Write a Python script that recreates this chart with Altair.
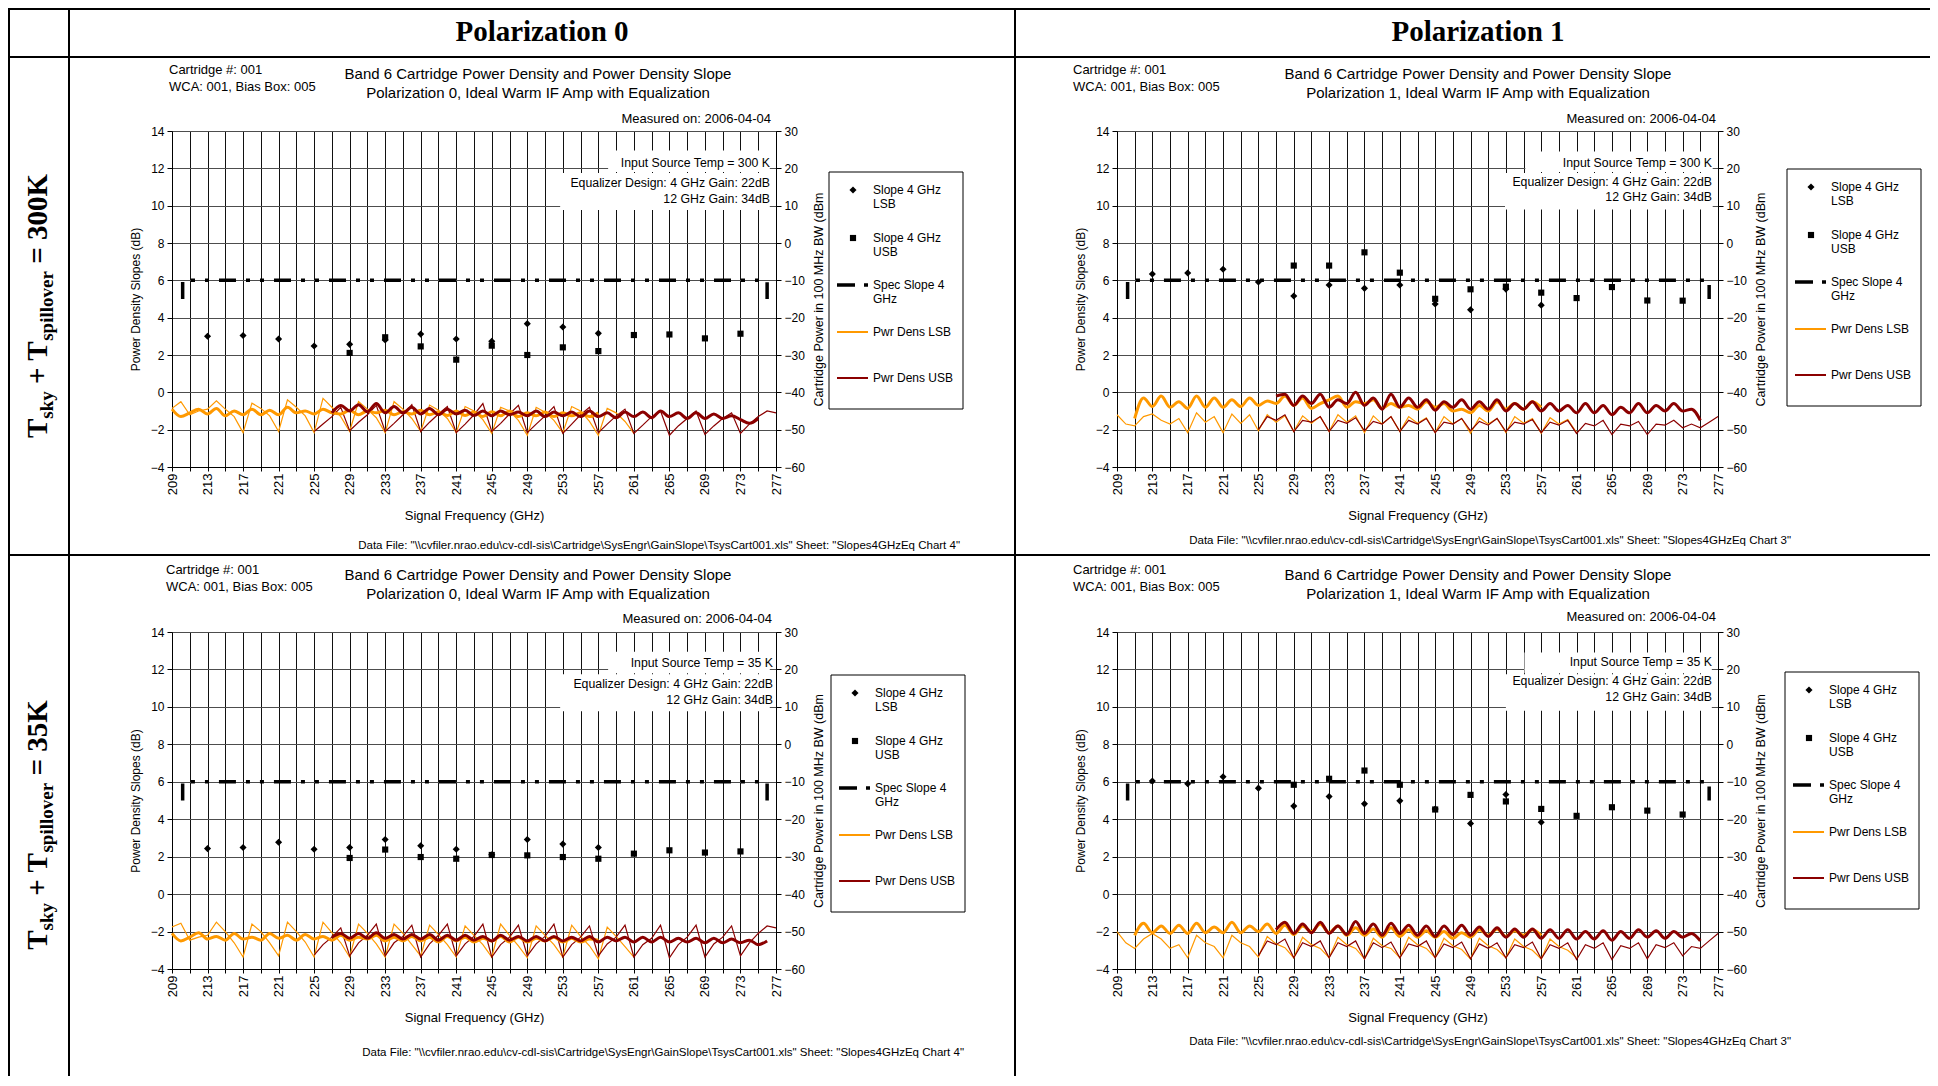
import altair as alt
import pandas as pd

# ------------------------------------------------------------------
# Data
# ------------------------------------------------------------------
LSB_FREQ = [213, 217, 221, 225, 229, 233, 237, 241, 245, 249, 253, 257]
USB_FREQ = [229, 233, 237, 241, 245, 249, 253, 257, 261, 265, 269, 273]
SPEC_FREQ = [210.2, 210.2, 276.0, 276.0]
SPEC_SLOPE = [5.0, 6.0, 6.0, 5.0]
X_TICKS = list(range(209, 278, 2))
Y_LEFT_TICKS = list(range(-4, 15, 2))
Y_RIGHT_TICKS = list(range(-60, 31, 10))

# slope points (dB)
P0_300_LSB = [3.00, 3.04, 2.86, 2.48, 2.57, 2.80, 3.12, 2.86, 2.73, 3.68, 3.50, 3.16]
P0_300_USB = [2.11, 2.95, 2.46, 1.75, 2.50, 2.00, 2.41, 2.21, 3.07, 3.10, 2.89, 3.14]
P1_300_LSB = [6.34, 6.39, 6.59, 5.91, 5.16, 5.75, 5.57, 5.75, 4.73, 4.42, 5.53, 4.67]
P1_300_USB = [6.79, 6.79, 7.50, 6.41, 5.01, 5.52, 5.66, 5.34, 5.05, 5.64, 4.92, 4.91]
P0_35_LSB = [2.43, 2.49, 2.77, 2.40, 2.49, 2.92, 2.58, 2.40, 2.10, 2.92, 2.67, 2.49]
P0_35_USB = [1.93, 2.38, 1.98, 1.89, 2.09, 2.07, 1.98, 1.89, 2.16, 2.34, 2.22, 2.28]
P1_35_LSB = [6.04, 5.90, 6.27, 5.66, 4.70, 5.21, 4.82, 4.98, 4.55, 3.77, 5.32, 3.84]
P1_35_USB = [5.84, 6.16, 6.60, 5.84, 4.52, 5.30, 4.95, 4.55, 4.18, 4.64, 4.46, 4.25]

# power density (dBm, 1 GHz steps from the given start frequency)
P0_300_LSB_THIN_START = 209
P0_300_LSB_THIN = [-44.3, -42.5, -46.0, -45.0, -44.5, -42.3, -44.5, -46.5, -50.8,
                   -42.9, -44.3, -46.3, -50.5, -42.0, -44.0, -46.3, -50.8,
                   -41.6, -44.0, -46.5, -50.5, -42.5, -44.5, -46.8, -50.8,
                   -42.5, -44.5, -47.0, -50.5, -43.4, -44.8, -47.0, -50.8,
                   -43.8, -45.0, -47.3, -51.0, -44.0, -45.0, -47.5, -51.5,
                   -44.0, -45.3, -47.5, -50.8, -43.8, -45.0, -47.8, -51.5,
                   -44.3, -45.5, -47.8, -51.0]
P0_300_LSB_THICK_START = 209
P0_300_LSB_THICK = [-44.5, -46.5, -45.5, -44.5, -45.8, -44.3, -46.3, -45.0, -46.0, -44.5,
                    -46.0, -44.8, -46.0, -44.0, -45.5, -45.0, -45.8, -44.5, -45.5, -45.8,
                    -44.8, -46.0, -45.0, -45.5, -44.8, -46.0, -45.2, -45.8, -44.8, -46.0,
                    -45.3, -46.2, -45.0, -46.2, -45.3, -46.5, -45.2, -46.3, -45.0, -46.5,
                    -45.5, -46.3, -45.3, -46.5, -45.5, -46.3, -45.5, -46.5, -45.5]
P0_300_USB_THICK_START = 227
P0_300_USB_THICK = [-45.5, -43.5, -45.0, -43.3, -45.2, -43.0, -45.5, -43.8, -45.5, -44.0,
                    -45.8, -44.3, -46.0, -44.5, -45.8, -44.8, -46.2, -45.0, -46.3, -45.0,
                    -46.0, -45.3, -46.3, -45.0, -46.5, -45.3, -46.3, -45.3, -46.5, -45.0,
                    -46.5, -45.5, -46.8, -45.3, -46.5, -45.3, -46.8, -45.0, -46.5, -45.5,
                    -47.0, -45.5, -47.0, -45.8, -47.0, -46.3, -47.3, -48.3, -47.0]
P0_300_USB_THIN_START = 225
P0_300_USB_THIN = [-50.5, -48.5, -46.5, -44.0, -50.3, -48.0, -46.0, -43.5,
                   -50.5, -48.3, -46.0, -43.3, -50.5, -48.0, -45.8, -43.8,
                   -50.8, -48.5, -46.0, -43.0, -50.5, -48.3, -45.8, -43.5,
                   -50.8, -48.5, -46.3, -43.8, -51.0, -48.5, -46.0, -44.0,
                   -50.8, -48.5, -46.3, -44.5, -51.0, -48.8, -46.5, -45.0,
                   -51.5, -49.0, -47.0, -45.0, -51.3, -49.0, -47.0, -45.5,
                   -51.0, -48.5, -46.5, -45.0, -45.5]

P1_300_LSB_THIN_START = 209
P1_300_LSB_THIN = [-46.0, -48.5, -49.0, -46.5, -45.8, -47.5, -48.5, -47.0, -50.8,
                   -45.5, -48.0, -46.5, -50.8, -45.8, -48.3, -46.0, -50.3,
                   -46.0, -48.0, -46.3, -50.5, -46.3, -48.3, -46.5, -50.5,
                   -46.0, -48.0, -46.3, -50.8, -46.3, -48.5, -46.5, -50.5,
                   -46.5, -48.3, -46.8, -50.8, -46.5, -48.5, -47.0, -51.0,
                   -46.8, -48.5, -47.0, -50.8, -46.5, -48.3, -47.0, -51.0,
                   -46.8, -48.5, -47.3, -50.8]
P1_300_LSB_THICK_START = 211
P1_300_LSB_THICK = [-47.0, -41.5, -43.8, -41.0, -44.0, -42.5, -44.3, -41.0, -44.0, -41.5,
                    -44.0, -42.0, -43.8, -41.5, -43.5, -42.3, -43.0, -41.0, -43.5, -41.5,
                    -44.3, -43.0, -42.0, -41.0, -44.0, -42.5, -43.0, -42.0, -44.3, -43.0,
                    -44.0, -43.5, -44.5, -42.5, -44.0, -43.0, -45.0, -44.5, -45.5, -43.5,
                    -45.0, -42.5, -44.5, -43.0, -44.5, -42.5, -44.0]
P1_300_USB_THICK_START = 227
P1_300_USB_THICK = [-41.0, -40.5, -43.5, -41.0, -43.0, -40.5, -44.0, -42.0, -43.0, -40.0,
                    -43.5, -41.5, -44.5, -40.5, -44.0, -41.5, -44.0, -42.0, -44.8, -42.5,
                    -44.0, -42.0, -44.5, -42.5, -44.5, -42.0, -45.0, -43.0, -44.5, -42.5,
                    -45.0, -43.0, -45.0, -43.5, -45.5, -43.0, -45.5, -43.5, -46.0, -44.0,
                    -45.5, -43.0, -45.5, -43.5, -45.0, -43.0, -45.0, -44.5, -47.5]
P1_300_USB_THIN_START = 225
P1_300_USB_THIN = [-50.0, -46.5, -47.5, -46.0, -50.5, -47.5, -48.0, -46.5,
                   -50.5, -47.5, -48.3, -46.8, -50.3, -47.8, -48.5, -46.5,
                   -50.5, -47.5, -48.5, -47.0, -50.8, -48.0, -48.5, -47.0,
                   -50.3, -47.8, -48.8, -47.0, -50.5, -48.0, -48.5, -47.3,
                   -50.8, -48.0, -48.8, -47.5, -51.0, -48.3, -49.0, -47.5,
                   -51.3, -48.5, -49.0, -47.8, -51.3, -48.5, -48.8, -47.5,
                   -49.5, -48.5, -49.5, -48.0, -46.5]

P0_35_LSB_THIN_START = 209
P0_35_LSB_THIN = [-48.8, -47.8, -52.3, -51.5, -51.0, -47.5, -50.0, -53.0, -56.8,
                  -48.0, -50.0, -53.0, -56.5, -47.5, -50.0, -52.8, -56.8,
                  -47.5, -50.3, -53.0, -56.8, -48.0, -50.5, -53.3, -56.8,
                  -48.0, -50.5, -53.5, -56.5, -48.3, -50.8, -53.5, -56.8,
                  -48.5, -51.0, -53.5, -56.8, -48.0, -51.0, -53.8, -57.0,
                  -48.5, -51.0, -53.5, -56.8, -48.3, -51.3, -53.8, -57.3,
                  -48.8, -51.3, -54.0, -56.8]
P0_35_LSB_THICK_START = 209
P0_35_LSB_THICK = [-50.5, -52.5, -51.5, -50.3, -52.0, -51.3, -52.3, -50.5, -52.0, -51.5,
                   -52.3, -50.5, -51.8, -51.0, -52.3, -50.8, -52.0, -51.3, -52.3, -51.0,
                   -52.3, -51.5, -52.0, -51.0, -52.5, -51.5, -52.5, -51.3, -52.5, -51.5,
                   -52.8, -51.3, -52.5, -51.5, -52.8, -51.8, -52.5, -51.3, -52.8, -51.5,
                   -52.8, -51.8, -52.5, -51.5, -52.8, -51.8, -52.8, -52.0, -52.3]
P0_35_USB_THICK_START = 227
P0_35_USB_THICK = [-51.5, -50.5, -51.8, -50.5, -51.8, -50.3, -51.8, -50.8, -52.0, -50.8,
                   -52.0, -50.8, -52.3, -51.0, -52.3, -51.0, -52.3, -51.3, -52.5, -51.0,
                   -52.3, -51.3, -52.5, -51.3, -52.5, -51.3, -52.5, -51.5, -52.5, -51.3,
                   -52.8, -51.5, -52.5, -51.5, -52.8, -51.5, -52.8, -51.5, -52.8, -51.8,
                   -52.8, -51.8, -53.0, -51.8, -53.0, -52.0, -53.0, -52.3, -53.5, -52.5]
P0_35_USB_THIN_START = 225
P0_35_USB_THIN = [-56.3, -53.5, -51.5, -49.0, -56.5, -53.0, -51.0, -48.0,
                  -56.5, -53.0, -51.3, -48.3, -56.8, -53.3, -51.0, -48.0,
                  -56.5, -53.3, -51.3, -48.0, -56.8, -53.5, -51.5, -48.3,
                  -56.5, -53.3, -51.3, -48.0, -56.8, -53.5, -51.5, -48.5,
                  -56.5, -53.3, -51.5, -48.3, -56.8, -53.5, -51.8, -48.3,
                  -57.0, -53.5, -51.5, -48.3, -56.8, -53.3, -51.5, -48.5,
                  -56.5, -53.0, -50.5, -48.5, -49.0]

P1_35_LSB_THIN_START = 209
P1_35_LSB_THIN = [-50.0, -53.0, -54.5, -52.0, -50.5, -52.0, -54.5, -53.5, -57.0,
                  -51.0, -53.0, -54.0, -57.0, -51.0, -53.0, -54.0, -56.8,
                  -51.3, -53.3, -54.3, -57.0, -51.5, -53.5, -54.5, -57.0,
                  -51.5, -53.5, -54.5, -57.3, -51.8, -53.8, -54.5, -57.0,
                  -51.5, -53.5, -54.5, -57.0, -51.8, -53.8, -54.8, -57.3,
                  -51.8, -53.8, -54.8, -57.0, -52.0, -54.0, -55.0, -57.3,
                  -52.0, -54.0, -55.0, -57.0]
P1_35_LSB_THICK_START = 211
P1_35_LSB_THICK = [-51.0, -47.8, -50.3, -48.5, -50.5, -48.3, -50.5, -47.8, -50.3, -48.8,
                   -50.3, -47.5, -50.3, -48.5, -50.0, -48.0, -50.5, -48.3, -50.8, -48.5,
                   -50.0, -48.0, -50.3, -48.5, -51.0, -49.0, -51.0, -49.3, -51.5, -49.0,
                   -51.3, -49.5, -51.5, -49.8, -51.5, -50.0, -51.8, -50.3, -51.5, -49.5,
                   -51.0, -49.3, -51.3, -49.8, -51.0, -49.5, -51.0]
P1_35_USB_THICK_START = 227
P1_35_USB_THICK = [-49.5, -47.5, -50.5, -48.0, -50.3, -47.5, -50.5, -48.5, -50.8, -47.3,
                   -50.5, -48.0, -51.0, -47.8, -50.5, -48.3, -51.0, -48.5, -51.3, -48.5,
                   -50.8, -48.3, -51.0, -48.8, -51.3, -49.0, -51.5, -49.3, -51.5, -49.3,
                   -51.8, -49.5, -51.8, -49.5, -52.0, -50.0, -52.0, -49.8, -52.3, -50.0,
                   -51.8, -49.5, -51.5, -49.8, -51.8, -50.0, -51.5, -50.5, -52.5]
P1_35_USB_THIN_START = 225
P1_35_USB_THIN = [-56.5, -52.5, -53.5, -52.0, -57.0, -53.0, -54.0, -52.5,
                  -57.0, -53.0, -54.0, -52.5, -57.3, -53.0, -54.3, -52.8,
                  -57.0, -53.3, -54.0, -52.5, -57.0, -53.3, -54.3, -52.8,
                  -57.3, -53.3, -54.5, -53.0, -57.0, -53.5, -54.3, -52.8,
                  -57.3, -53.5, -54.5, -53.0, -57.5, -53.5, -54.5, -53.0,
                  -57.5, -53.8, -54.5, -53.0, -57.3, -53.5, -54.3, -53.0,
                  -56.5, -54.0, -54.5, -52.5, -50.5]

# ------------------------------------------------------------------
# Texts
# ------------------------------------------------------------------
TITLE_1 = "Band 6 Cartridge Power Density and Power Density Slope"
TITLE_2 = "Polarization {p}, Ideal Warm IF Amp with Equalization"
CART_TXT = "Cartridge #:  001"
WCA_TXT = "WCA:  001, Bias Box:  005"
MEAS_TXT = "Measured on:  2006-04-04"
TEMP_TXT = "Input Source Temp = {t} K"
EQ_1 = "Equalizer Design: 4 GHz Gain: 22dB"
EQ_2 = "12 GHz Gain: 34dB"
DATA_FILE = ('Data File: "\\\\cvfiler.nrao.edu\\cv-cdl-sis\\Cartridge\\SysEngr\\GainSlope\\TsysCart001.xls"'
             '  Sheet: "Slopes4GHzEq Chart {c}"')
LEGEND_TXT = [("Slope 4 GHz", "LSB"), ("Slope 4 GHz", "USB"), ("Spec Slope 4", "GHz"),
              ("Pwr Dens LSB", ""), ("Pwr Dens USB", "")]

SANS = "Liberation Sans, Arial, sans-serif"
SERIF = "Liberation Serif, Times New Roman, serif"
ORANGE = "#FF9900"
DARKRED = "#8B0000"


def txt(t, x, y, size=12, align="left", font=SANS, weight="normal", angle=None, baseline="middle"):
    kw = dict(align=align, baseline=baseline, fontSize=size, font=font, fontWeight=weight, color="black")
    if angle is not None:
        kw["angle"] = angle
    return alt.Chart(pd.DataFrame({"t": [t]})).mark_text(**kw).encode(
        text="t:N", x=alt.value(x), y=alt.value(y))


def series_df(start, vals):
    return pd.DataFrame({"freq": [start + i for i in range(len(vals))], "dbm": vals})


def legend_layers(lx, ly):
    w, h = 134, 237
    rows = [18, 66, 113, 160, 206]
    one = pd.DataFrame({"k": [0]})
    out = [alt.Chart(one).mark_rect(fill="white", stroke="black", strokeWidth=1).encode(
        x=alt.value(lx), x2=alt.value(lx + w), y=alt.value(ly), y2=alt.value(ly + h))]
    out.append(alt.Chart(one).mark_point(shape="diamond", filled=True, size=50, color="black", opacity=1).encode(
        x=alt.value(lx + 24), y=alt.value(ly + rows[0])))
    out.append(alt.Chart(one).mark_point(shape="square", filled=True, size=38, color="black", opacity=1).encode(
        x=alt.value(lx + 24), y=alt.value(ly + rows[1])))
    out.append(alt.Chart(one).mark_rule(color="black", strokeWidth=3.5, strokeDash=[18, 9, 4]).encode(
        x=alt.value(lx + 8), x2=alt.value(lx + 39), y=alt.value(ly + rows[2])))
    out.append(alt.Chart(one).mark_rule(color=ORANGE, strokeWidth=2).encode(
        x=alt.value(lx + 8), x2=alt.value(lx + 39), y=alt.value(ly + rows[3])))
    out.append(alt.Chart(one).mark_rule(color=DARKRED, strokeWidth=2).encode(
        x=alt.value(lx + 8), x2=alt.value(lx + 39), y=alt.value(ly + rows[4])))
    for (a, b), r in zip(LEGEND_TXT, rows):
        out.append(txt(a, lx + 44, ly + r, 12))
        if b:
            out.append(txt(b, lx + 44, ly + r + 14, 12))
    return out


def build_panel(p):
    W, H = p["w"], p["h"]
    xs = alt.Scale(domain=[209, 277], nice=False, zero=False)
    ysl = alt.Scale(domain=[-4, 14], nice=False, zero=False)
    ysr = alt.Scale(domain=[-60, 30], nice=False, zero=False)
    xaxis = alt.Axis(values=X_TICKS, labelExpr="(datum.value - 209) % 4 == 0 ? datum.label : ''",
                     labelAngle=270, labelFontSize=13, labelPadding=2, labelOverlap=False,
                     labelFlush=False, tickSize=4, tickColor="black", domainColor="black",
                     grid=True, gridColor="#111111", gridWidth=1,
                     title="Signal  Frequency (GHz)", titleFontSize=13, titleFontWeight="normal",
                     titleX=W / 2, titleY=42)
    ylaxis = alt.Axis(values=Y_LEFT_TICKS, orient="left", grid=True, gridColor="#4d4d4d", gridWidth=1,
                      labelFontSize=12, labelPadding=3, labelFlush=False, labelOverlap=False,
                      tickSize=5, tickColor="black", domainColor="black",
                      title="Power Density Slopes (dB)", titleFontSize=12, titleFontWeight="normal",
                      titlePadding=8)
    yraxis = alt.Axis(values=Y_RIGHT_TICKS, orient="right", grid=False,
                      labelFontSize=12, labelPadding=3, labelFlush=False, labelOverlap=False,
                      tickSize=5, tickColor="black", domainColor="black",
                      title="Cartridge Power in 100 MHz BW (dBm", titleFontSize=12.5,
                      titleFontWeight="normal", titleAngle=270, titlePadding=21)

    X = lambda f: alt.X(f, scale=xs, axis=xaxis)
    YL = lambda f: alt.Y(f, scale=ysl, axis=ylaxis)
    YR = lambda f: alt.Y(f, scale=ysr, axis=yraxis)

    boxes = alt.Chart(pd.DataFrame(p["boxes"], columns=["x0", "x1", "y0", "y1"])).mark_rect(
        color="white").encode(x=X("x0:Q"), x2=alt.X2("x1"), y=YL("y0:Q"), y2=alt.Y2("y1"))
    spec = alt.Chart(pd.DataFrame({"freq": SPEC_FREQ, "slope": SPEC_SLOPE,
                                   "o": list(range(len(SPEC_FREQ)))})).mark_line(
        color="black", strokeWidth=3.5, strokeDash=[17, 10, 4, 10, 4, 10], strokeCap="butt").encode(
        x=X("freq:Q"), y=YL("slope:Q"), order="o:Q")
    lsb = alt.Chart(pd.DataFrame({"freq": LSB_FREQ, "slope": p["lsb"]})).mark_point(
        shape="diamond", filled=True, size=50, color="black", opacity=1).encode(
        x=X("freq:Q"), y=YL("slope:Q"))
    usb = alt.Chart(pd.DataFrame({"freq": USB_FREQ, "slope": p["usb"]})).mark_point(
        shape="square", filled=True, size=38, color="black", opacity=1).encode(
        x=X("freq:Q"), y=YL("slope:Q"))
    left = alt.layer(boxes, spec, lsb, usb)

    def pline(start, vals, color, width, interp="linear"):
        return alt.Chart(series_df(start, vals)).mark_line(
            color=color, strokeWidth=width, interpolate=interp).encode(
            x=X("freq:Q"), y=YR("dbm:Q"))

    right = alt.layer(
        pline(p["lsb_thin"][0], p["lsb_thin"][1], ORANGE, 1.2),
        pline(p["usb_thin"][0], p["usb_thin"][1], DARKRED, 1.2),
        pline(p["lsb_thick"][0], p["lsb_thick"][1], ORANGE, 3, "monotone"),
        pline(p["usb_thick"][0], p["usb_thick"][1], DARKRED, 3, "monotone"),
    )

    t = p["txt"]
    texts = [
        txt(CART_TXT, t["cart"][0], t["cart"][1], 13),
        txt(WCA_TXT, t["cart"][0], t["cart"][1] + 17, 13),
        txt(TITLE_1, t["title"][0], t["title"][1], 15, align="center"),
        txt(TITLE_2.format(p=p["pol"]), t["title"][0], t["title"][1] + 19, 15, align="center"),
        txt(MEAS_TXT, t["meas"][0], t["meas"][1], 13, align="right"),
        txt(TEMP_TXT.format(t=p["temp"]), t["ann_x"], t["ann_y"][0], 12.3, align="right"),
        txt(EQ_1, t["ann_x"], t["ann_y"][1], 12.3, align="right"),
        txt(EQ_2, t["ann_x"], t["ann_y"][2], 12.3, align="right"),
        txt(DATA_FILE.format(c=p["chart"]), t["data"][0], H + t["data"][1], 11.5, align="right"),
    ]
    leg = legend_layers(*p["legend"])
    return alt.layer(left, right, *texts, *leg).resolve_scale(y="independent").properties(
        width=W, height=H, view=alt.ViewBackground(stroke=None))


# ------------------------------------------------------------------
# Table layout: one flat grid, columns and bands (flush bounds)
# ------------------------------------------------------------------
COLW = [2, 58, 2, 102, 604, 238, 2, 101, 601, 212]
BLACK_COLS = {0, 2, 6}
HEAD_H = 46
R1_TOP, R1_MID, R1_BOT = 73, 336, 87
R2_TOP, R2_MID, R2_BOT = 76, 337, 107

PANELS = {
    "p0_300": dict(pol="0", temp="300", chart="4", w=COLW[4], h=R1_MID,
                   lsb=P0_300_LSB, usb=P0_300_USB,
                   lsb_thin=(P0_300_LSB_THIN_START, P0_300_LSB_THIN),
                   lsb_thick=(P0_300_LSB_THICK_START, P0_300_LSB_THICK),
                   usb_thin=(P0_300_USB_THIN_START, P0_300_USB_THIN),
                   usb_thick=(P0_300_USB_THICK_START, P0_300_USB_THICK),
                   boxes=[(258.1, 276.3, 11.8, 12.95), (252.7, 276.3, 9.77, 11.75)],
                   legend=(657, 41),
                   txt=dict(cart=(-3, -61), title=(366, -57), meas=(599, -12), ann_x=598,
                            ann_y=(32, 52, 68), data=(788, 79))),
    "p1_300": dict(pol="1", temp="300", chart="3", w=COLW[8], h=R1_MID,
                   lsb=P1_300_LSB, usb=P1_300_USB,
                   lsb_thin=(P1_300_LSB_THIN_START, P1_300_LSB_THIN),
                   lsb_thick=(P1_300_LSB_THICK_START, P1_300_LSB_THICK),
                   usb_thin=(P1_300_USB_THIN_START, P1_300_USB_THIN),
                   usb_thick=(P1_300_USB_THICK_START, P1_300_USB_THICK),
                   boxes=[(255.2, 276.4, 11.8, 12.9), (252.9, 276.4, 9.8, 11.75)],
                   legend=(670, 38),
                   txt=dict(cart=(-44, -61), title=(361, -57), meas=(599, -12), ann_x=595,
                            ann_y=(32, 51, 66), data=(674, 74))),
    "p0_35": dict(pol="0", temp="35", chart="4", w=COLW[4], h=R2_MID,
                  lsb=P0_35_LSB, usb=P0_35_USB,
                  lsb_thin=(P0_35_LSB_THIN_START, P0_35_LSB_THIN),
                  lsb_thick=(P0_35_LSB_THICK_START, P0_35_LSB_THICK),
                  usb_thin=(P0_35_USB_THIN_START, P0_35_USB_THIN),
                  usb_thick=(P0_35_USB_THICK_START, P0_35_USB_THICK),
                  boxes=[(258.1, 276.3, 11.8, 12.95), (252.7, 276.3, 9.77, 11.75)],
                  legend=(659, 43),
                  txt=dict(cart=(-6, -62), title=(366, -57), meas=(600, -13), ann_x=601,
                           ann_y=(31, 52, 68), data=(792, 84))),
    "p1_35": dict(pol="1", temp="35", chart="3", w=COLW[8], h=R2_MID,
                  lsb=P1_35_LSB, usb=P1_35_USB,
                  lsb_thin=(P1_35_LSB_THIN_START, P1_35_LSB_THIN),
                  lsb_thick=(P1_35_LSB_THICK_START, P1_35_LSB_THICK),
                  usb_thin=(P1_35_USB_THIN_START, P1_35_USB_THIN),
                  usb_thick=(P1_35_USB_THICK_START, P1_35_USB_THICK),
                  boxes=[(255.1, 276.3, 11.8, 12.9), (253.0, 276.3, 9.8, 11.75)],
                  legend=(668, 40),
                  txt=dict(cart=(-44, -62), title=(361, -57), meas=(599, -15), ann_x=595,
                           ann_y=(30, 49, 65), data=(674, 73))),
}

BLANK = pd.DataFrame({"t": [0]})


def spacer(w, h, fill=None):
    view = alt.ViewBackground(stroke=None, fill=fill) if fill else alt.ViewBackground(stroke=None)
    return alt.Chart(BLANK).mark_point(size=0, opacity=0, strokeWidth=0).encode(
        x=alt.value(0), y=alt.value(0)).properties(width=w, height=h, view=view)


TB = {"T": 667, "s": 389, "k": 556, "y": 500, " ": 250, "+": 570, "p": 556, "i": 278,
      "l": 278, "o": 500, "v": 500, "e": 444, "r": 444, "=": 570, "3": 500, "0": 500,
      "5": 500, "K": 778}


def tw(s, size):
    return sum(TB[c] for c in s) * size / 1000.0


def row_label(temp, w, h, center):
    big, sub = 29, 19
    parts = [("T", big, False), ("sky", sub, True), (" ", big, None), ("+ T", big, False),
             ("spillover", sub, True), (" ", big, None), ("= " + temp + "K", big, False)]
    total = sum(tw(s, z) for s, z, _ in parts)
    pos = center + total / 2.0
    layers = []
    for s, z, is_sub in parts:
        if is_sub is not None:
            layers.append(txt(s, 43 if is_sub else 37, pos, z, align="left", font=SERIF,
                              weight="bold", angle=270, baseline="alphabetic"))
        pos -= tw(s, z)
    return alt.layer(*layers).properties(width=w, height=h, view=alt.ViewBackground(stroke=None))


def header(text, w, h, cx):
    return txt(text, cx, 22, 29, align="center", font=SERIF, weight="bold").properties(
        width=w, height=h, view=alt.ViewBackground(stroke=None))


def band(h, contents=None, black_all=False):
    contents = contents or {}
    row = []
    for j, w in enumerate(COLW):
        if j in contents:
            row.append(contents[j])
        elif black_all or j in BLACK_COLS:
            row.append(spacer(w, h, "black"))
        else:
            row.append(spacer(w, h))
    return row


p00 = build_panel(PANELS["p0_300"])
p01 = build_panel(PANELS["p1_300"])
p10 = build_panel(PANELS["p0_35"])
p11 = build_panel(PANELS["p1_35"])

cells = []
cells += band(2, black_all=True)
cells += band(HEAD_H, {4: header("Polarization 0", COLW[4], HEAD_H, 370),
                       8: header("Polarization 1", COLW[8], HEAD_H, 361)})
cells += band(2, black_all=True)
cells += band(R1_TOP)
cells += band(R1_MID, {1: row_label("300", COLW[1], R1_MID, 175), 4: p00, 8: p01})
cells += band(R1_BOT)
cells += band(2, black_all=True)
cells += band(R2_TOP)
cells += band(R2_MID, {1: row_label("35", COLW[1], R2_MID, 193), 4: p10, 8: p11})
cells += band(R2_BOT)

chart = alt.concat(*cells, columns=len(COLW), spacing=0, bounds="flush", align="each").properties(
    padding=0
).configure(font=SANS).configure_view(stroke=None).configure_axis(
    labelFont=SANS, titleFont=SANS, labelColor="black", titleColor="black")

chart.save("out.html", embed_options={"renderer": "svg", "actions": False})
